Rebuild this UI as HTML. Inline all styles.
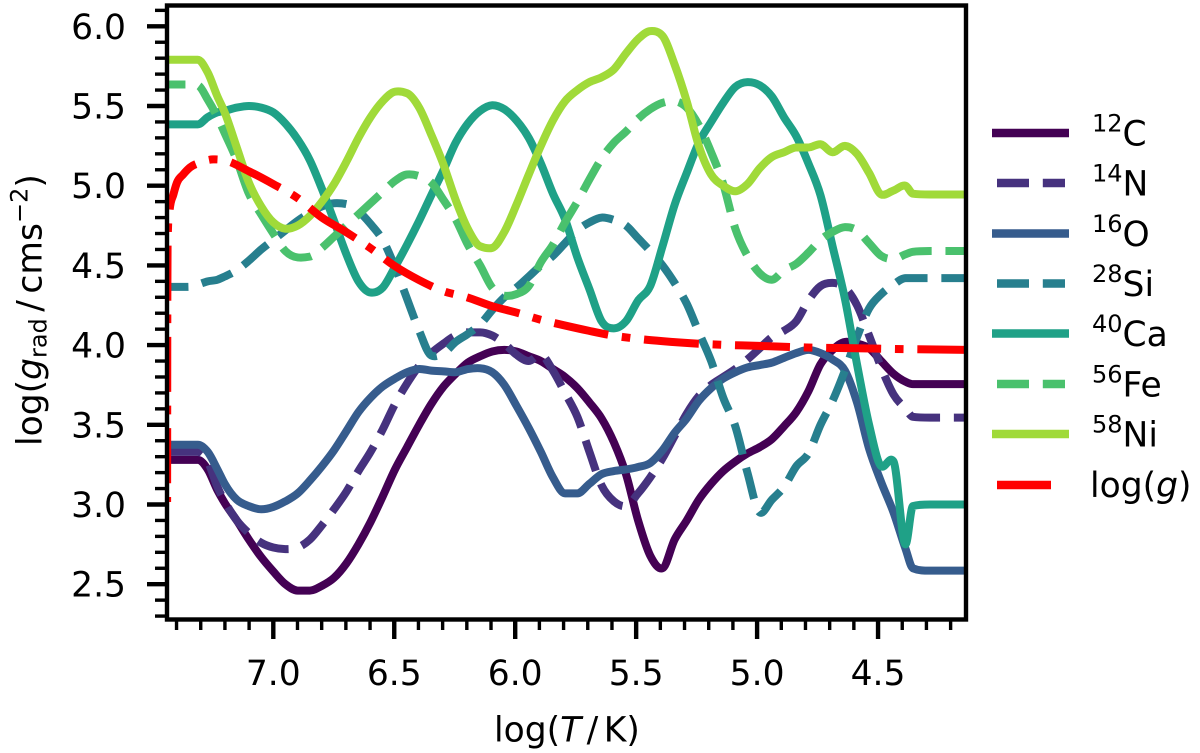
<!DOCTYPE html>
<html>
<head>
<meta charset="utf-8">
<title>Radiative accelerations</title>
<style>
html,body{margin:0;padding:0;background:#fff;}
svg{display:block;}
text{font-family:"DejaVu Sans","Liberation Sans",sans-serif;fill:#000;}
</style>
</head>
<body>
<svg id="chart" xmlns="http://www.w3.org/2000/svg" width="1200" height="753" viewBox="0 0 1200 753">
  <defs><clipPath id="plot-clip"><rect x="167" y="5.5" width="799" height="614"/></clipPath></defs>
  <g id="ticks"></g>
  <g id="series" clip-path="url(#plot-clip)" fill="none"></g>
  <rect x="167" y="5.5" width="799" height="614" fill="none" stroke="#000" stroke-width="4.4"/>

  <text x="494" y="741.5" font-size="34.5">log(<tspan font-style="italic">T</tspan><tspan dx="5.5">/</tspan><tspan dx="5.5">K)</tspan></text>
  <text transform="translate(41.7,446) rotate(-90)" font-size="34.5">log(<tspan font-style="italic">g</tspan><tspan font-size="24" dy="5">rad</tspan><tspan dy="-5" dx="6.5">/</tspan><tspan dx="6.5">cm</tspan><tspan>s</tspan><tspan font-size="24" dy="-14">−2</tspan><tspan dy="14">)</tspan></text>

  <g font-size="34.5">
    <g>
      <line x1="992" x2="1069" y1="133" y2="133" stroke="#440154" stroke-width="8.4"/>
      <text x="1092" y="145.5"><tspan font-size="24" dy="-14">12</tspan><tspan dy="14">C</tspan></text>
    </g>
    <g>
      <line x1="997" x2="1065" y1="183" y2="183" stroke="#46327e" stroke-width="8.4" stroke-dasharray="32 13.8"/>
      <text x="1092" y="195.5"><tspan font-size="24" dy="-14">14</tspan><tspan dy="14">N</tspan></text>
    </g>
    <g>
      <line x1="992" x2="1069" y1="233.5" y2="233.5" stroke="#365c8d" stroke-width="8.4"/>
      <text x="1092" y="246"><tspan font-size="24" dy="-14">16</tspan><tspan dy="14">O</tspan></text>
    </g>
    <g>
      <line x1="997" x2="1065" y1="283.5" y2="283.5" stroke="#277f8e" stroke-width="8.4" stroke-dasharray="32 13.8"/>
      <text x="1092" y="296"><tspan font-size="24" dy="-14">28</tspan><tspan dy="14">Si</tspan></text>
    </g>
    <g>
      <line x1="992" x2="1069" y1="333.5" y2="333.5" stroke="#1fa187" stroke-width="8.4"/>
      <text x="1092" y="346"><tspan font-size="24" dy="-14">40</tspan><tspan dy="14">Ca</tspan></text>
    </g>
    <g>
      <line x1="997" x2="1065" y1="384" y2="384" stroke="#4ac16d" stroke-width="8.4" stroke-dasharray="32 13.8"/>
      <text x="1092" y="396.5"><tspan font-size="24" dy="-14">56</tspan><tspan dy="14">Fe</tspan></text>
    </g>
    <g>
      <line x1="992" x2="1069" y1="434" y2="434" stroke="#a0da39" stroke-width="8.4"/>
      <text x="1092" y="446.5"><tspan font-size="24" dy="-14">58</tspan><tspan dy="14">Ni</tspan></text>
    </g>
    <g>
      <line x1="997" x2="1051" y1="485" y2="485" stroke="#ff0000" stroke-width="8.4"/>
      <text x="1090" y="497">log(<tspan font-style="italic">g</tspan>)</text>
    </g>
  </g>
</svg>
<script>
const logT = [
  7.45,7.402,7.352,7.312,7.271,7.231,7.201,7.151,7.101,7.05,
  7.0,6.95,6.899,6.849,6.799,6.749,6.698,6.648,6.598,6.548,
  6.497,6.447,6.397,6.347,6.296,6.246,6.196,6.145,6.095,6.045,
  5.995,5.944,5.894,5.844,5.794,5.743,5.693,5.643,5.592,5.542,
  5.492,5.442,5.391,5.341,5.291,5.241,5.19,5.14,5.09,5.04,
  4.989,4.939,4.889,4.838,4.788,4.738,4.688,4.637,4.587,4.537,
  4.487,4.436,4.386,4.356,4.285,4.185,4.13
];
const carbon12 = [
  3.28,3.28,3.28,3.28,3.22,3.09,3.01,2.90,2.78,2.67,
  2.58,2.50,2.46,2.46,2.49,2.54,2.63,2.75,2.89,3.05,
  3.22,3.36,3.50,3.63,3.74,3.82,3.89,3.93,3.96,3.97,
  3.96,3.93,3.90,3.85,3.80,3.73,3.64,3.54,3.39,3.19,
  2.90,2.68,2.60,2.78,2.90,3.03,3.13,3.21,3.27,3.32,
  3.36,3.41,3.49,3.58,3.71,3.88,3.97,4.02,4.01,3.98,
  3.90,3.82,3.77,3.755,3.755,3.755,3.755
];
const nitrogen14 = [
  3.33,3.33,3.33,3.33,3.27,3.11,3.02,2.90,2.82,2.76,
  2.73,2.72,2.73,2.78,2.87,2.97,3.08,3.21,3.33,3.47,
  3.63,3.76,3.87,3.95,4.01,4.06,4.08,4.08,4.06,4.01,
  3.94,3.90,3.94,3.84,3.70,3.55,3.33,3.12,3.02,2.99,
  3.07,3.17,3.29,3.43,3.57,3.68,3.75,3.80,3.85,3.91,
  3.98,4.05,4.09,4.15,4.28,4.37,4.39,4.36,4.25,4.06,
  3.86,3.69,3.60,3.55,3.545,3.545,3.545
];
const oxygen16 = [
  3.375,3.375,3.375,3.375,3.33,3.22,3.13,3.03,2.99,2.97,
  2.985,3.02,3.07,3.15,3.24,3.34,3.46,3.58,3.67,3.74,
  3.79,3.83,3.85,3.84,3.835,3.83,3.85,3.855,3.83,3.75,
  3.62,3.48,3.33,3.17,3.07,3.07,3.13,3.19,3.21,3.22,
  3.235,3.26,3.34,3.45,3.54,3.65,3.73,3.79,3.83,3.86,
  3.875,3.89,3.92,3.95,3.97,3.95,3.91,3.84,3.64,3.35,
  3.14,2.95,2.72,2.60,2.585,2.585,2.585
];
const silicon28 = [
  4.365,4.365,4.365,4.38,4.40,4.41,4.43,4.47,4.53,4.60,
  4.66,4.72,4.78,4.83,4.87,4.89,4.885,4.84,4.76,4.66,
  4.49,4.29,4.09,3.935,3.95,4.02,4.07,4.13,4.22,4.30,
  4.36,4.43,4.50,4.56,4.64,4.72,4.77,4.80,4.785,4.75,
  4.67,4.59,4.50,4.39,4.26,4.08,3.90,3.67,3.49,3.20,
  2.95,3.03,3.11,3.24,3.32,3.50,3.65,3.84,4.05,4.23,
  4.32,4.38,4.42,4.42,4.42,4.42,4.42
];
const calcium40 = [
  5.385,5.385,5.385,5.385,5.43,5.46,5.47,5.49,5.50,5.49,
  5.46,5.39,5.29,5.16,4.98,4.78,4.57,4.40,4.33,4.36,
  4.49,4.63,4.78,4.94,5.10,5.27,5.39,5.47,5.505,5.48,
  5.41,5.30,5.14,4.95,4.79,4.55,4.35,4.15,4.105,4.15,
  4.28,4.37,4.62,4.88,5.08,5.27,5.40,5.52,5.62,5.65,
  5.63,5.56,5.43,5.31,5.14,4.94,4.62,4.29,3.88,3.50,
  3.24,3.27,2.75,2.99,3.0,3.0,3.0
];
const iron56 = [
  5.635,5.635,5.635,5.63,5.54,5.43,5.33,5.16,4.95,4.82,
  4.70,4.59,4.55,4.555,4.61,4.68,4.75,4.82,4.89,4.96,
  5.03,5.07,5.06,5.02,4.91,4.79,4.63,4.50,4.36,4.31,
  4.32,4.37,4.52,4.63,4.77,4.90,5.04,5.17,5.27,5.34,
  5.42,5.48,5.52,5.53,5.49,5.38,5.21,5.01,4.73,4.56,
  4.45,4.41,4.47,4.51,4.58,4.66,4.71,4.74,4.72,4.64,
  4.56,4.54,4.57,4.585,4.59,4.59,4.59
];
const nickel58 = [
  5.79,5.79,5.79,5.79,5.71,5.56,5.46,5.24,5.02,4.87,
  4.77,4.73,4.75,4.81,4.90,5.01,5.15,5.30,5.43,5.53,
  5.59,5.58,5.49,5.32,5.13,4.91,4.73,4.62,4.61,4.71,
  4.88,5.07,5.25,5.41,5.53,5.60,5.65,5.68,5.73,5.83,
  5.92,5.97,5.94,5.76,5.53,5.25,5.07,5.00,4.965,5.01,
  5.11,5.18,5.21,5.24,5.24,5.26,5.21,5.25,5.20,5.08,
  4.945,4.97,5.00,4.95,4.945,4.945,4.945
];
const logTGravity = [
  7.439,7.438,7.436,7.429,7.413,7.398,7.373,7.344,7.303,7.249,7.204,7.10,
  7.0,6.902,6.799,6.70,6.60,6.497,6.40,6.30,6.20,6.097,5.997,5.897,5.80,
  5.696,5.596,5.496,5.393,5.195,4.992,4.794,4.591,4.393,4.13
];
const logGravity = [
  3.016,4.30,4.70,4.84,4.945,5.02,5.07,5.115,5.145,5.165,5.16,5.09,
  5.01,4.925,4.80,4.71,4.61,4.495,4.41,4.34,4.30,4.245,4.205,4.16,4.125,
  4.09,4.06,4.04,4.025,4.005,3.995,3.985,3.98,3.975,3.97
];
const xMajorTicks = ["7.0","6.5","6.0","5.5","5.0","4.5"];
const xMinorTicks = [7.4,7.3,7.2,7.1,6.9,6.8,6.7,6.6,6.4,6.3,6.2,6.1,5.9,5.8,5.7,5.6,5.4,5.3,5.2,5.1,4.9,4.8,4.7,4.6,4.4,4.3,4.2];
const yMajorTicks = ["6.0","5.5","5.0","4.5","4.0","3.5","3.0","2.5"];
const yMinorTicks = [6.1,5.9,5.8,5.7,5.6,5.4,5.3,5.2,5.1,4.9,4.8,4.7,4.6,4.4,4.3,4.2,4.1,3.9,3.8,3.7,3.6,3.4,3.3,3.2,3.1,2.9,2.8,2.7,2.6,2.4,2.3];

const SVG_NS = 'http://www.w3.org/2000/svg';
function xScale(t) { return 273.3 + (7 - t) * 241.9; }
function yScale(v) { return 26.3 + (6 - v) * 159.4; }

function smoothPath(xs, ys) {
  const n = xs.length;
  const dx = [], s = [], m = [];
  for (let i = 0; i < n - 1; i++) {
    dx.push(xs[i + 1] - xs[i]);
    s.push((ys[i + 1] - ys[i]) / dx[i]);
  }
  m.push(s[0]);
  for (let i = 1; i < n - 1; i++) {
    let t = (s[i - 1] * dx[i] + s[i] * dx[i - 1]) / (dx[i - 1] + dx[i]);
    if (Math.min(Math.abs(s[i - 1]), Math.abs(s[i])) < 0.01) {
      t = 0;
    } else if (s[i - 1] * s[i] < 0) {
      t *= 0.5;
    } else {
      const lim = 3 * Math.min(Math.abs(s[i - 1]), Math.abs(s[i]));
      if (Math.abs(t) > lim) t = Math.sign(t) * lim;
    }
    m.push(t);
  }
  m.push(s[n - 2]);
  let d = 'M' + xs[0].toFixed(2) + ' ' + ys[0].toFixed(2);
  for (let i = 0; i < n - 1; i++) {
    const h = dx[i] / 3;
    d += 'C' + (xs[i] + h).toFixed(2) + ' ' + (ys[i] + m[i] * h).toFixed(2) + ' ' +
      (xs[i + 1] - h).toFixed(2) + ' ' + (ys[i + 1] - m[i + 1] * h).toFixed(2) + ' ' +
      xs[i + 1].toFixed(2) + ' ' + ys[i + 1].toFixed(2);
  }
  return d;
}

function drawSeries(name, ts, vs, color, dash, offset) {
  const el = document.createElementNS(SVG_NS, 'path');
  
  
  el.setAttribute('d', smoothPath(ts.map(xScale), vs.map(yScale)));
  el.setAttribute('stroke', color);
  el.setAttribute('stroke-width', '8');
  el.setAttribute('stroke-linejoin', 'round');
  if (dash) {
    el.setAttribute('stroke-dasharray', dash);
    el.setAttribute('stroke-dashoffset', offset);
  }
  document.getElementById('series').appendChild(el);
}

const DASHED = '32 13.8';
drawSeries('series-12c', logT, carbon12, '#440154', null, 0);
drawSeries('series-14n', logT, nitrogen14, '#46327e', DASHED, 39.8);
drawSeries('series-16o', logT, oxygen16, '#365c8d', null, 0);
drawSeries('series-28si', logT, silicon28, '#277f8e', DASHED, 8);
drawSeries('series-40ca', logT, calcium40, '#1fa187', null, 0);
drawSeries('series-56fe', logT, iron56, '#4ac16d', DASHED, 11);
drawSeries('series-58ni', logT, nickel58, '#a0da39', null, 0);
drawSeries('series-log-g', logTGravity, logGravity, '#ff0000', '55 13.8 8.6 13.8', 72.4);

const tickLayer = document.getElementById('ticks');
function tick(x1, y1, x2, y2, width) {
  const el = document.createElementNS(SVG_NS, 'line');
  
  
  el.setAttribute('x1', x1);
  el.setAttribute('y1', y1);
  el.setAttribute('x2', x2);
  el.setAttribute('y2', y2);
  el.setAttribute('stroke', '#000');
  el.setAttribute('stroke-width', width);
  tickLayer.appendChild(el);
}
function tickLabel(name, x, y, anchor, label) {
  const el = document.createElementNS(SVG_NS, 'text');
  
  
  el.setAttribute('x', x);
  el.setAttribute('y', y);
  el.setAttribute('text-anchor', anchor);
  el.setAttribute('font-size', '34.5');
  el.textContent = label;
  tickLayer.appendChild(el);
}
xMinorTicks.forEach(function (t) { tick(xScale(t), 620, xScale(t), 630, 3.4); });
yMinorTicks.forEach(function (v) { tick(155, yScale(v), 167, yScale(v), 3.4); });
xMajorTicks.forEach(function (label) {
  const x = xScale(parseFloat(label));
  tick(x, 620, x, 639, 4.4);
  tickLabel('x-tick-label', x, 685, 'middle', label);
});
yMajorTicks.forEach(function (label) {
  const y = yScale(parseFloat(label));
  tick(147, y, 167, y, 4.4);
  tickLabel('y-tick-label', 126, y + 12.5, 'end', label);
});
</script>
</body>
</html>
